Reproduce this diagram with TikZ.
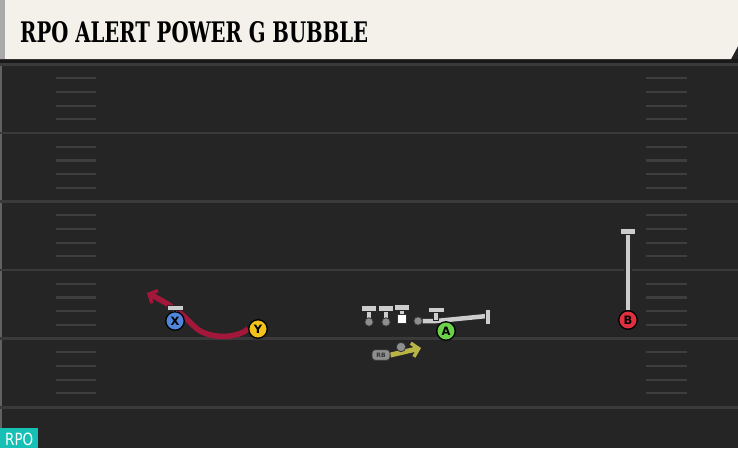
\documentclass[tikz,border=0pt]{standalone}
\usepackage{fontspec}
\usetikzlibrary{arrows.meta}
\newfontfamily\titlefont{DejaVu Serif}
\newfontfamily\labfont{DejaVu Sans}
\definecolor{fieldbg}{HTML}{252525}
\definecolor{yardline}{HTML}{3A3A3A}
\definecolor{hashc}{HTML}{3E3E3E}
\definecolor{cream}{HTML}{F3F1EA}
\definecolor{stripe}{HTML}{A9A9A9}
\definecolor{teal}{HTML}{17C0B5}
\definecolor{xblue}{HTML}{4F86D9}
\definecolor{yyellow}{HTML}{F2C21B}
\definecolor{agreen}{HTML}{6BD14A}
\definecolor{bred}{HTML}{E0303F}
\definecolor{crimson}{HTML}{A3173A}
\definecolor{olive}{HTML}{B8B446}
\definecolor{blkgray}{HTML}{CDCDCD}
\definecolor{dotgray}{HTML}{8E8E8E}
\pgfdeclarelayer{field}
\pgfdeclarelayer{lines}
\pgfsetlayers{field,lines,main}
\begin{document}
\begin{tikzpicture}[x=1pt,y=-1pt,
  player/.style={circle, draw=black, line width=1.3pt, minimum size=18.5pt, inner sep=0pt,
    font=\labfont\bfseries\fontsize{11.5}{11.5}\selectfont},
  dotn/.style={circle, fill=dotgray, draw=black!80, line width=0.8pt, minimum size=8.5pt, inner sep=0pt},
  blk/.style={draw=black!85, line width=1.3pt, double=blkgray, double distance=4.5pt},
  tbar/.style={fill=blkgray, draw=black!85, line width=0.9pt},
  route/.style={draw=crimson, line width=5.5pt, -{Straight Barb[length=6.5pt,width=14pt,line width=3.5pt]}},
  rbroute/.style={draw=olive, line width=5pt, -{Straight Barb[length=6.5pt,width=14pt,line width=3.5pt]}},
  rbbox/.style={rounded corners=3pt, fill=dotgray, draw=black!80, line width=0.9pt, minimum width=18pt, minimum height=10.5pt, inner sep=0pt, font=\labfont\bfseries\fontsize{6}{6}\selectfont, text=black!80},
  yard/.style={draw=yardline, line width=2.2pt},
  hash/.style={draw=hashc, line width=2.2pt}
]
\useasboundingbox (0,0) rectangle (738,448);
\begin{pgfonlayer}{field}
  \fill[fieldbg] (0,0) rectangle (738,448);
  \fill[black!90] (0,59) rectangle (738,64);
  \fill[yardline!80] (0,64) rectangle (2,448);
  \foreach \yy in {64.5,133,201.5,270,338.5,407.5} {
    \draw[yard] (0,\yy) -- (738,\yy);
  }
  \foreach \yy in {64.5,133,201.5,270,338.5} {
    \foreach \k in {1,2,3,4} {
      \draw[hash] (56,\yy+13.7*\k) -- (96,\yy+13.7*\k);
      \draw[hash] (646,\yy+13.7*\k) -- (687,\yy+13.7*\k);
    }
  }
  % header
  \fill[cream] (0,0) -- (738,0) -- (738,46) -- (731,59) -- (0,59) -- cycle;
  \fill[stripe] (0,0) rectangle (5,59);
  \node[anchor=south west, inner sep=0pt] (title) at (20,43)
    {\resizebox{348pt}{21pt}{\titlefont\bfseries RPO ALERT POWER G BUBBLE}};
  % RPO tag
  \fill[teal] (0,428) rectangle (38,448);
  \node[anchor=south west, inner sep=0pt, text=white] (tag) at (5,445.5)
    {\resizebox{28pt}{12.5pt}{\labfont RPO}};
\end{pgfonlayer}

% players
\node[player, fill=xblue] (X) at (175,321) {X};
\node[player, fill=yyellow] (Y) at (258,329) {Y};
\node[player, fill=agreen] (A) at (446,331) {A};
\node[player, fill=bred] (B) at (628,320) {B};

% offensive line
\node[dotn] (o1) at (369,322) {};
\node[dotn] (o2) at (386,322) {};
\node[draw=black!80, fill=white, line width=0.8pt, minimum size=9pt, inner sep=0pt] (c) at (402,318.5) {};
\node[dotn] (g) at (418,321) {};
\coordinate (o4) at (436,321);
\coordinate (pe) at (487,316);

% RB
\node[rbbox] (RB) at (381,355) {RB};
\node[dotn, minimum size=9.5pt] (rbd) at (401,347) {};
\coordinate (rbe) at (421,348);

% route end
\coordinate (xe) at (147,293);
\coordinate (bt) at (628,232);

\begin{pgfonlayer}{lines}
  % Y route
  \draw[route] (Y.west) .. controls (236,339) and (209,339) .. (196,328)
     .. controls (187,320) and (180,309) .. (xe);
  % X block marker
  \draw[tbar] (172.5,309) rectangle (177.5,313);
  \draw[tbar] (167.5,305) rectangle (183.5,310.5);
  % OL T's
  \foreach \n/\xx in {o1/369,o2/386} {
    \draw[tbar] (\xx-2.8,310) rectangle (\xx+2.8,320);
    \draw[tbar] (\xx-7.5,305.5) rectangle (\xx+7.5,311);
  }
  \draw[tbar] (399.2,309.5) rectangle (404.8,314.5);
  \draw[tbar] (394.5,304.5) rectangle (409.5,310);
  % pulling guard block line
  \draw[blk] (g) -- (o4) -- (pe);
  \draw[tbar] (433.2,310) rectangle (438.8,320);
  \draw[tbar] (428,307) rectangle (444,312);
  \draw[tbar] (485.5,309.5) rectangle (490.5,324);
  % B
  \draw[blk] (B.north) -- (bt);
  \draw[tbar] (620.5,228.5) rectangle (635.5,234);
  % RB
  \draw[rbroute] (RB.east) -- (rbe);
\end{pgfonlayer}
\end{tikzpicture}
\end{document}
